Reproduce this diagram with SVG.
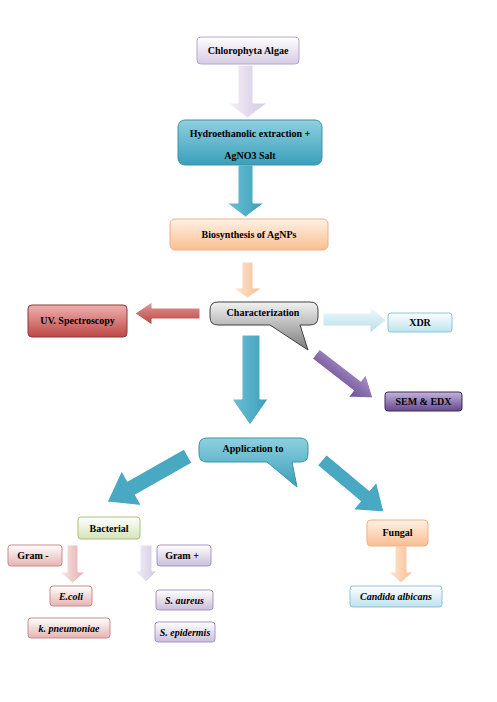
<svg xmlns="http://www.w3.org/2000/svg" width="497" height="702" viewBox="0 0 497 702">
<defs>
<linearGradient id="gLav" x1="0" y1="0" x2="0" y2="1"><stop offset="0" stop-color="#ffffff"/><stop offset="1" stop-color="#d5cbe3"/></linearGradient>
<linearGradient id="gTeal" x1="0" y1="0" x2="0" y2="1"><stop offset="0" stop-color="#8fd0e0"/><stop offset="1" stop-color="#3a9fb9"/></linearGradient>
<linearGradient id="gPeach" x1="0" y1="0" x2="0" y2="1"><stop offset="0" stop-color="#fff1e5"/><stop offset="1" stop-color="#f9bf92"/></linearGradient>
<linearGradient id="gGray" x1="0" y1="0" x2="0" y2="1"><stop offset="0" stop-color="#f2f2f2"/><stop offset="1" stop-color="#7b7b7b"/></linearGradient>
<linearGradient id="gRed" x1="0" y1="0" x2="0" y2="1"><stop offset="0" stop-color="#efb1b0"/><stop offset="1" stop-color="#bd4845"/></linearGradient>
<linearGradient id="gBlue" x1="0" y1="0" x2="0" y2="1"><stop offset="0" stop-color="#ffffff"/><stop offset="1" stop-color="#bde2ee"/></linearGradient>
<linearGradient id="gPurp" x1="0" y1="0" x2="0" y2="1"><stop offset="0" stop-color="#c4b3dc"/><stop offset="1" stop-color="#64488c"/></linearGradient>
<linearGradient id="gGreen" x1="0" y1="0" x2="0" y2="1"><stop offset="0" stop-color="#ffffff"/><stop offset="1" stop-color="#d5e3b8"/></linearGradient>
<linearGradient id="gPink" x1="0" y1="0" x2="0" y2="1"><stop offset="0" stop-color="#ffffff"/><stop offset="1" stop-color="#e5b3b2"/></linearGradient>
<linearGradient id="gLav2" x1="0" y1="0" x2="0" y2="1"><stop offset="0" stop-color="#ffffff"/><stop offset="1" stop-color="#c9bedb"/></linearGradient>
<linearGradient id="hTeal" x1="0" y1="0" x2="1" y2="0"><stop offset="0" stop-color="#6cc0d6"/><stop offset="1" stop-color="#3b9fb8"/></linearGradient>
<linearGradient id="hLav" x1="0" y1="0" x2="1" y2="0"><stop offset="0" stop-color="#f4f0f8"/><stop offset="1" stop-color="#d3c8e2"/></linearGradient>
<linearGradient id="hPeach" x1="0" y1="0" x2="1" y2="0"><stop offset="0" stop-color="#fde6d4"/><stop offset="1" stop-color="#f8be90"/></linearGradient>
<linearGradient id="hPink" x1="0" y1="0" x2="1" y2="0"><stop offset="0" stop-color="#fbeaea"/><stop offset="1" stop-color="#e3a8a7"/></linearGradient>
<linearGradient id="hBlue" x1="0" y1="0" x2="0" y2="1"><stop offset="0" stop-color="#f2fafd"/><stop offset="1" stop-color="#b5dde9"/></linearGradient>
<linearGradient id="hRed" x1="0" y1="0" x2="0" y2="1"><stop offset="0" stop-color="#e39d9b"/><stop offset="1" stop-color="#b9413e"/></linearGradient>
<linearGradient id="hPurp" x1="0" y1="0" x2="0" y2="1"><stop offset="0" stop-color="#a992c8"/><stop offset="1" stop-color="#6a4f92"/></linearGradient>
</defs>
<style>
text{font-family:"Liberation Serif","Times New Roman",serif;font-size:10px;font-weight:bold;fill:#000;text-anchor:middle}
.it{font-style:italic}
.box{stroke-width:1}
.lav{fill:url(#gLav);stroke:#b4a6c9}
.teal{fill:url(#gTeal);stroke:#3a93aa}
.peach{fill:url(#gPeach);stroke:#f2b183}
.gray{fill:url(#gGray);stroke:#404040}
.red{fill:url(#gRed);stroke:#8c3836}
.blue{fill:url(#gBlue);stroke:#8cc5d8}
.purp{fill:url(#gPurp);stroke:#3f2b5c}
.green{fill:url(#gGreen);stroke:#a9c179}
.pink{fill:url(#gPink);stroke:#c98c8b}
.lav2{fill:url(#gLav2);stroke:#a596bd}
.arr{stroke:#ffffff;stroke-width:1}
</style>

<g id="connectors">
<polygon class="arr" fill="url(#hLav)" stroke="#c8bcd9" points="238,65 253,65 253,103 267,103 247.5,118 228,103 238,103"/>
<polygon class="arr" fill="url(#hTeal)" points="238,165 253,165 253,203 264,203 245.5,217 227,203 238,203"/>
<polygon class="arr" fill="url(#hPeach)" points="242,262 253,262 253,288 262,288 247.5,298 233,288 242,288"/>
<polygon class="arr" fill="url(#hRed)" stroke="#8c3836" points="200,308 200,319 152,319 152,325 135,313.5 152,302 152,308"/>
<polygon class="arr" fill="url(#hBlue)" stroke="#8cc5d8" points="323,313 370,313 370,307 386,320 370,333 370,326 323,326"/>
<polygon class="arr" fill="url(#hPurp)" points="0,-6 52,-6 52,-14 72,0 52,14 52,6 0,6" transform="translate(316,354) rotate(37.7)"/>
<polygon class="arr" fill="url(#hTeal)" points="242,335 260,335 260,399 268,399 250,425 232,399 242,399"/>
<polygon class="arr" fill="#4aa9c2" points="0,-8 65,-8 65,-20 93,0 65,20 65,8 0,8" transform="translate(188,456) rotate(150.4)"/>
<polygon class="arr" fill="#4aa9c2" points="0,-7 56,-7 56,-18 81,0 56,18 56,7 0,7" transform="translate(322,460) rotate(40)"/>
<polygon class="arr" fill="url(#hPink)" stroke="#d9a3a2" points="67,545 78,545 78,572 85,572 72.5,583 60,572 67,572"/>
<polygon class="arr" fill="url(#hLav)" stroke="#b9acd0" points="140,545 152,545 152,571 157,571 146,582 135,571 140,571"/>
<polygon class="arr" fill="url(#hPeach)" stroke="#f2c09a" points="395,546 407,546 407,572 413,572 401,583 389,572 395,572"/>
</g>

<g id="chlorophyta"><rect class="box lav" x="197" y="37" width="102" height="27" rx="4"/><text x="248" y="54">Chlorophyta Algae</text></g>
<g id="hydro"><rect class="box teal" x="178" y="120" width="144" height="45" rx="7"/><text x="250" y="136.5">Hydroethanolic extraction +</text><text x="250" y="158.5">AgNO3 Salt</text></g>
<g id="biosynthesis"><rect class="box peach" x="170" y="219" width="158" height="31" rx="5"/><text x="249" y="238">Biosynthesis of AgNPs</text></g>
<g id="characterization"><path class="box gray" d="M218,302 H310 Q318,302 318,310 V317 Q318,325 310,325 H300 L308,350 L270,325 H218 Q210,325 210,317 V310 Q210,302 218,302 Z"/><text x="263" y="315.5">Characterization</text></g>
<g id="uv"><rect class="box red" x="28" y="305" width="99" height="32" rx="4"/><text x="77.5" y="324">UV. Spectroscopy</text></g>
<g id="xdr"><rect class="box blue" x="388" y="313" width="64" height="19" rx="3"/><text x="420" y="326">XDR</text></g>
<g id="sem"><rect class="box purp" x="385" y="392" width="77" height="19" rx="3"/><text x="423.5" y="405">SEM &amp; EDX</text></g>
<g id="application"><path class="box teal" d="M207,438 H300 Q308,438 308,446 V454 Q308,462 300,462 H292 L297,487 L267,462 H207 Q199,462 199,454 V446 Q199,438 207,438 Z"/><text x="253" y="451.5">Application to</text></g>
<g id="bacterial"><rect class="box green" x="78" y="517" width="62" height="22" rx="3"/><text x="109" y="531.5">Bacterial</text></g>
<g id="gramneg"><rect class="box pink" x="8" y="545" width="54" height="21" rx="3"/><text x="33" y="559">Gram -</text></g>
<g id="grampos"><rect class="box lav2" x="157" y="545" width="54" height="21" rx="3"/><text x="182" y="559">Gram +</text></g>
<g id="ecoli"><rect class="box pink" x="50" y="586" width="42" height="20" rx="3"/><text class="it" x="71" y="599.5">E.coli</text></g>
<g id="kpneumoniae"><rect class="box pink" x="28" y="618" width="82" height="20" rx="3"/><text class="it" x="69" y="631.5">k. pneumoniae</text></g>
<g id="saureus"><rect class="box lav2" x="156" y="590" width="57" height="20" rx="3"/><text class="it" x="184.5" y="603.5">S. aureus</text></g>
<g id="sepidermis"><rect class="box lav2" x="155" y="622" width="60" height="20" rx="3"/><text class="it" x="185" y="635.5">S. epidermis</text></g>
<g id="fungal"><rect class="box peach" x="367" y="520" width="61" height="26" rx="4"/><text x="397.5" y="536">Fungal</text></g>
<g id="candida"><rect class="box blue" x="350" y="586" width="92" height="21" rx="3"/><text class="it" x="396" y="600">Candida albicans</text></g>
</svg>
